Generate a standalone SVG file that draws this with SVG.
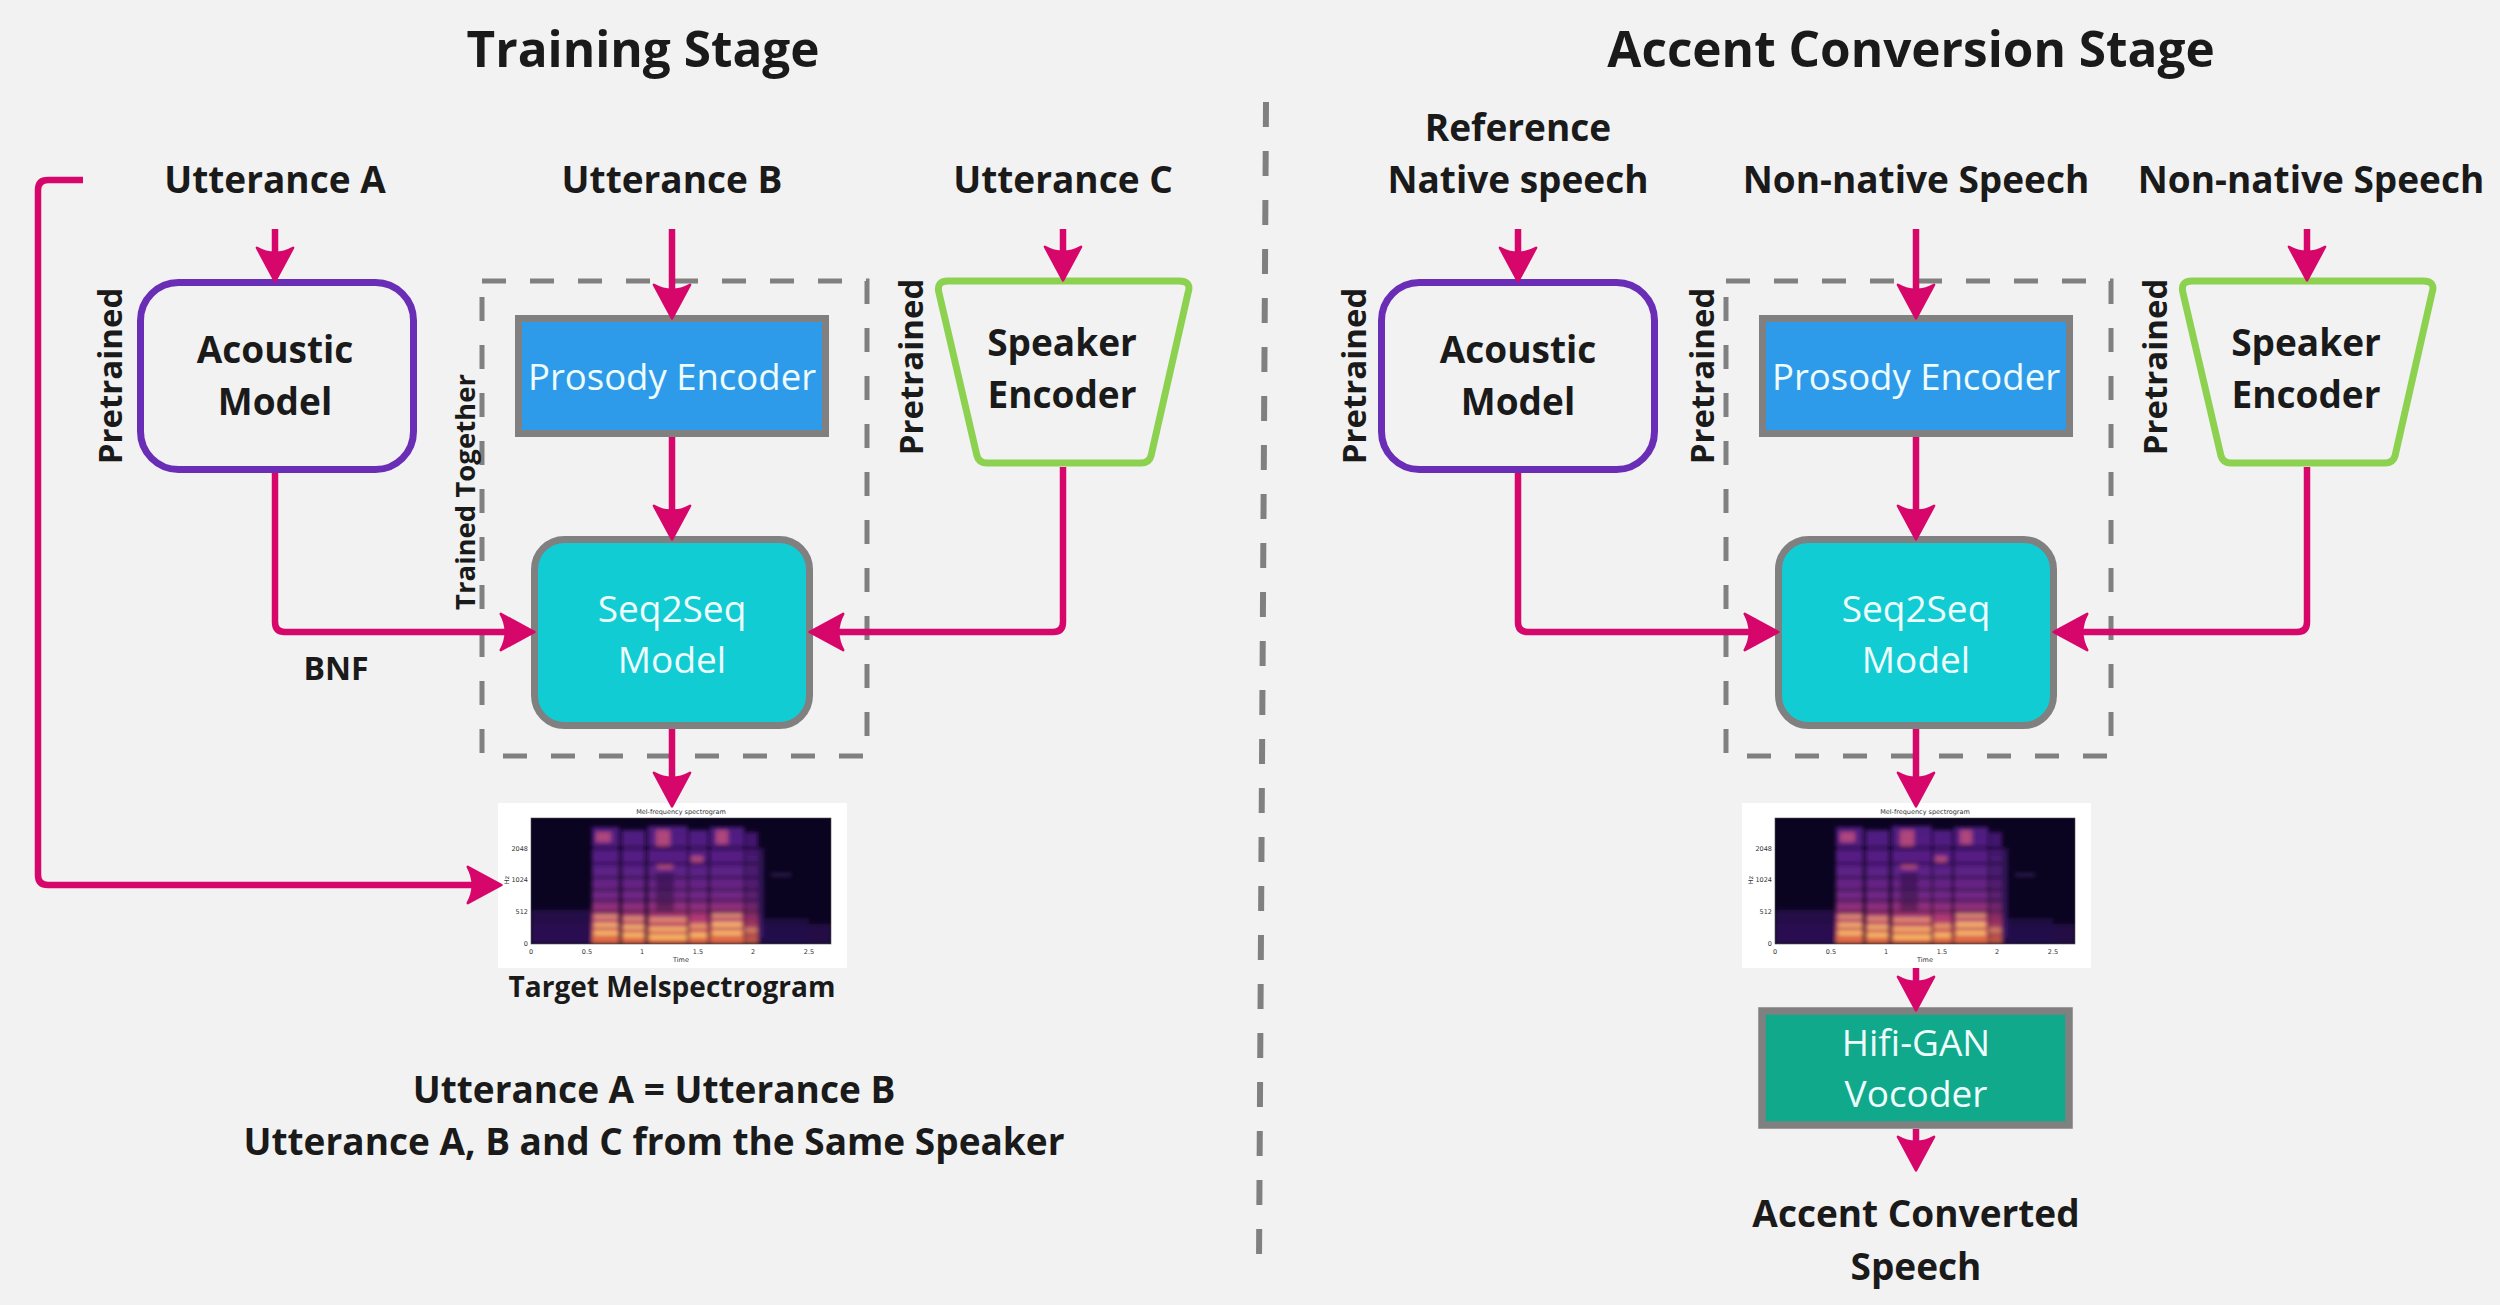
<svg xmlns="http://www.w3.org/2000/svg" xmlns:xlink="http://www.w3.org/1999/xlink" width="2500" height="1305" viewBox="0 0 2500 1305">
<style>
text{font-family:"Open Sans","Noto Sans","Liberation Sans",sans-serif;fill:#1a1a1a}
.title{font-size:49.5px;font-weight:700;text-anchor:middle}
.lbl{font-size:37px;font-weight:700;text-anchor:middle}
.rot{font-size:33px;font-weight:700;text-anchor:middle}
.rot2{font-size:27.5px;font-weight:700;text-anchor:middle}
.wt{font-size:37px;font-weight:400;text-anchor:middle;fill:#eefcfc}
.conn{fill:none;stroke:#d6066a;stroke-width:6.5;stroke-linejoin:round}
.arr{marker-end:url(#ah)}
.dash{fill:none;stroke:#808080;stroke-width:5;stroke-dasharray:24 24}
.acoustic{fill:none;stroke:#6a2db6;stroke-width:7}
.speaker{fill:none;stroke:#8cd250;stroke-width:7;stroke-linejoin:round}
.prosody{fill:#2e9bea;stroke:#808080;stroke-width:7}
.seq{fill:#12ccd4;stroke:#808080;stroke-width:7}
.hifi{fill:#10a98b;stroke:#808080;stroke-width:7.5}
.ax{font-family:"DejaVu Sans","Liberation Sans",sans-serif;font-size:6.5px;fill:#333}
</style>
<defs>
<marker id="ah" markerUnits="userSpaceOnUse" markerWidth="40" markerHeight="40" viewBox="0 0 30 32" refX="14" refY="16" orient="auto">
<path d="M1,1.5 Q9,16 1,30.5 L28,16 Z" fill="#d6066a" stroke="#d6066a" stroke-width="2" stroke-linejoin="round"/>
</marker>
<linearGradient id="colg" x1="0" y1="0" x2="0" y2="1">
<stop offset="0" stop-color="#4e1a80"/>
<stop offset="0.35" stop-color="#5a2086"/>
<stop offset="0.6" stop-color="#742886"/>
<stop offset="0.8" stop-color="#b83c70"/>
<stop offset="1" stop-color="#ea723e"/>
</linearGradient>
<filter id="blur" x="-5%" y="-5%" width="110%" height="110%"><feGaussianBlur stdDeviation="1.9"/></filter>
<clipPath id="plotclip"><rect x="0" y="0" width="300" height="126"/></clipPath>
<g id="spec">
<rect x="-33" y="-15" width="349" height="165" fill="#ffffff"/>
<g clip-path="url(#plotclip)">
<rect x="0" y="0" width="300" height="126" fill="#0b0420"/>
<g filter="url(#blur)">
<rect x="0" y="106" width="300" height="20" fill="#2c0f55" opacity="0.7"/>
<rect x="0" y="92" width="62" height="34" fill="#2a0e52" opacity="0.8"/>
<rect x="228" y="100" width="50" height="26" fill="#24104a" opacity="0.7"/>
<rect x="61" y="9" width="27" height="117" fill="url(#colg)"/>
<rect x="91" y="12" width="23" height="114" fill="url(#colg)"/>
<rect x="117" y="8" width="40" height="118" fill="url(#colg)"/>
<rect x="158" y="12" width="19" height="114" fill="url(#colg)"/>
<rect x="179" y="9" width="34" height="117" fill="url(#colg)"/>
<rect x="214" y="14" width="13" height="112" fill="url(#colg)" opacity="0.8"/>
<rect x="227" y="30" width="6" height="90" fill="#3a1a6a" opacity="0.7"/>
<g fill="#0b0420" opacity="0.5">
<rect x="61" y="28" width="166" height="4"/>
<rect x="61" y="44" width="166" height="3"/>
<rect x="61" y="58" width="166" height="3"/>
<rect x="61" y="70" width="166" height="3"/>
<rect x="61" y="81" width="166" height="3"/>
<rect x="61" y="92" width="166" height="2.5"/>
<rect x="88" y="9" width="3" height="117"/>
<rect x="114" y="9" width="3" height="117"/>
<rect x="156" y="9" width="2" height="117"/>
<rect x="177" y="9" width="2" height="117"/>
<rect x="213" y="9" width="1.5" height="117"/>
<rect x="125" y="55" width="18" height="40" opacity="0.7"/>
</g>
<g fill="#d85a7a" opacity="0.7">
<rect x="65" y="14" width="15" height="10"/>
<rect x="125" y="12" width="14" height="16"/>
<rect x="185" y="12" width="12" height="14"/>
<rect x="126" y="47" width="16" height="4"/>
<rect x="160" y="38" width="12" height="6"/>
</g>
<g fill="#fcc46a">
<rect x="63" y="97" width="24" height="3.5" opacity="0.7"/>
<rect x="63" y="105" width="24" height="4" opacity="0.9"/>
<rect x="63" y="113" width="24" height="4"/>
<rect x="92" y="99" width="21" height="3.5" opacity="0.7"/>
<rect x="92" y="107" width="21" height="4" opacity="0.9"/>
<rect x="92" y="115" width="21" height="4"/>
<rect x="118" y="100" width="38" height="3.5" opacity="0.7"/>
<rect x="118" y="109" width="38" height="4" opacity="0.9"/>
<rect x="118" y="117" width="38" height="4"/>
<rect x="159" y="106" width="17" height="4" opacity="0.7"/>
<rect x="159" y="115" width="17" height="4"/>
<rect x="181" y="96" width="30" height="3.5" opacity="0.7"/>
<rect x="181" y="104" width="30" height="5" opacity="0.9"/>
<rect x="181" y="113" width="30" height="4"/>
<rect x="214" y="110" width="12" height="4" opacity="0.5"/>
</g>
<rect x="240" y="56" width="20" height="1.5" fill="#5a3a8a"/>
</g>
</g>
<rect x="0" y="0" width="300" height="126" fill="none" stroke="#555" stroke-width="0.6"/>
<text class="ax" x="150" y="-4" text-anchor="middle">Mel-frequency spectrogram</text>
<text class="ax" x="-3" y="33" text-anchor="end">2048</text>
<text class="ax" x="-3" y="64" text-anchor="end">1024</text>
<text class="ax" x="-3" y="96" text-anchor="end">512</text>
<text class="ax" x="-3" y="128" text-anchor="end">0</text>
<text class="ax" transform="translate(-22,62) rotate(-90)" text-anchor="middle">Hz</text>
<text class="ax" x="0" y="136" text-anchor="middle">0</text>
<text class="ax" x="56" y="136" text-anchor="middle">0.5</text>
<text class="ax" x="111" y="136" text-anchor="middle">1</text>
<text class="ax" x="167" y="136" text-anchor="middle">1.5</text>
<text class="ax" x="222" y="136" text-anchor="middle">2</text>
<text class="ax" x="278" y="136" text-anchor="middle">2.5</text>
<text class="ax" x="150" y="144" text-anchor="middle">Time</text>
</g>
</defs>

<rect x="0" y="0" width="2500" height="1305" fill="#f2f2f2"/>

<g id="titles">
<text class="title" x="643" y="67">Training Stage</text>
<text class="title" x="1911" y="67">Accent Conversion Stage</text>
</g>

<g id="divider">
<line x1="1266" y1="102" x2="1259" y2="1262" stroke="#808080" stroke-width="6" stroke-dasharray="25 24"/>
</g>

<!-- Training stage -->
<g id="utt-a"><text class="lbl" x="275" y="193">Utterance A</text></g>
<g id="utt-b"><text class="lbl" x="672" y="193">Utterance B</text></g>
<g id="utt-c"><text class="lbl" x="1063" y="193">Utterance C</text></g>

<g id="trained-together">
<rect class="dash" x="482" y="281" width="385" height="475"/>
<text class="rot2" transform="translate(475,492) rotate(-90)">Trained Together</text>
</g>

<g id="acoustic-l">
<rect class="acoustic" x="140.5" y="282.5" width="273" height="187" rx="38"/>
<text class="lbl" x="275" y="363">Acoustic</text>
<text class="lbl" x="275" y="415">Model</text>
<text class="rot" transform="translate(122,376) rotate(-90)">Pretrained</text>
</g>

<g id="prosody-l">
<rect class="prosody" x="518.5" y="318.5" width="307" height="115"/>
<text class="wt" x="672" y="390" style="font-size:36.5px">Prosody Encoder</text>
</g>

<g id="seq-l">
<rect class="seq" x="534.5" y="539.5" width="275" height="186" rx="30"/>
<text class="wt" x="672" y="622">Seq2Seq</text>
<text class="wt" x="672" y="673">Model</text>
</g>

<g id="speaker-l">
<path class="speaker" d="M948,281 H1179 Q1192,281 1188,293 L1151,456 Q1149,463 1141,463 H987 Q979,463 977,456 L939,293 Q936,281 948,281 Z"/>
<text class="lbl" x="1062" y="356">Speaker</text>
<text class="lbl" x="1062" y="408">Encoder</text>
<text class="rot" transform="translate(923,367) rotate(-90)">Pretrained</text>
</g>

<g id="spec-l">
<use xlink:href="#spec" href="#spec" x="531" y="818"/>
<text class="lbl" x="672" y="997" style="font-size:28px">Target Melspectrogram</text>
</g>

<g id="notes">
<text class="lbl" x="654" y="1103">Utterance A = Utterance B</text>
<text class="lbl" x="654" y="1155">Utterance A, B and C from the Same Speaker</text>
</g>

<!-- Accent conversion stage -->
<g id="ref-native"><text class="lbl" x="1518" y="141">Reference</text><text class="lbl" x="1518" y="193">Native speech</text></g>
<g id="nonnative-1"><text class="lbl" x="1916" y="193">Non-native Speech</text></g>
<g id="nonnative-2"><text class="lbl" x="2311" y="193">Non-native Speech</text></g>

<g id="pretrained-group-r">
<rect class="dash" x="1726" y="281" width="385" height="475"/>
<text class="rot" transform="translate(1714,376) rotate(-90)">Pretrained</text>
</g>

<g id="acoustic-r">
<rect class="acoustic" x="1381.5" y="282.5" width="273" height="187" rx="38"/>
<text class="lbl" x="1518" y="363">Acoustic</text>
<text class="lbl" x="1518" y="415">Model</text>
<text class="rot" transform="translate(1366,376) rotate(-90)">Pretrained</text>
</g>

<g id="prosody-r">
<rect class="prosody" x="1762.5" y="318.5" width="307" height="115"/>
<text class="wt" x="1916" y="390" style="font-size:36.5px">Prosody Encoder</text>
</g>

<g id="seq-r">
<rect class="seq" x="1778.5" y="539.5" width="275" height="186" rx="30"/>
<text class="wt" x="1916" y="622">Seq2Seq</text>
<text class="wt" x="1916" y="673">Model</text>
</g>

<g id="speaker-r">
<path class="speaker" d="M2192,281 H2423 Q2436,281 2432,293 L2395,456 Q2393,463 2385,463 H2231 Q2223,463 2221,456 L2183,293 Q2180,281 2192,281 Z"/>
<text class="lbl" x="2306" y="356">Speaker</text>
<text class="lbl" x="2306" y="408">Encoder</text>
<text class="rot" transform="translate(2167,367) rotate(-90)">Pretrained</text>
</g>

<g id="spec-r">
<use xlink:href="#spec" href="#spec" x="1775" y="818"/>
</g>

<g id="hifigan">
<rect class="hifi" x="1762" y="1011" width="307" height="114"/>
<text class="wt" x="1916" y="1056">Hifi-GAN</text>
<text class="wt" x="1916" y="1107">Vocoder</text>
</g>

<g id="output-r"><text class="lbl" x="1916" y="1227">Accent Converted</text><text class="lbl" x="1916" y="1280">Speech</text></g>

<g id="bnf"><text class="lbl" x="336" y="680" style="font-size:32px">BNF</text></g>

<g id="connectors">
<path class="conn arr" d="M275,229 V264"/>
<path class="conn arr" d="M672,229 V301"/>
<path class="conn arr" d="M1063,229 V263"/>
<path class="conn arr" d="M275,473 V622 Q275,632 285,632 H517"/>
<path class="conn arr" d="M1063,467 V622 Q1063,632 1053,632 H827"/>
<path class="conn arr" d="M672,437 V522"/>
<path class="conn arr" d="M672,729 V789"/>
<path class="conn arr" d="M83,180 H48 Q38,180 38,190 V875 Q38,885 48,885 H484"/>

<path class="conn arr" d="M1518,229 V264"/>
<path class="conn arr" d="M1916,229 V301"/>
<path class="conn arr" d="M2307,229 V263"/>
<path class="conn arr" d="M1518,473 V622 Q1518,632 1528,632 H1761"/>
<path class="conn arr" d="M2307,467 V622 Q2307,632 2297,632 H2071"/>
<path class="conn arr" d="M1916,437 V522"/>
<path class="conn arr" d="M1916,729 V789"/>
<path class="conn arr" d="M1916,968 V993"/>
<path class="conn arr" d="M1916,1129 V1153"/>
</g>
</svg>
